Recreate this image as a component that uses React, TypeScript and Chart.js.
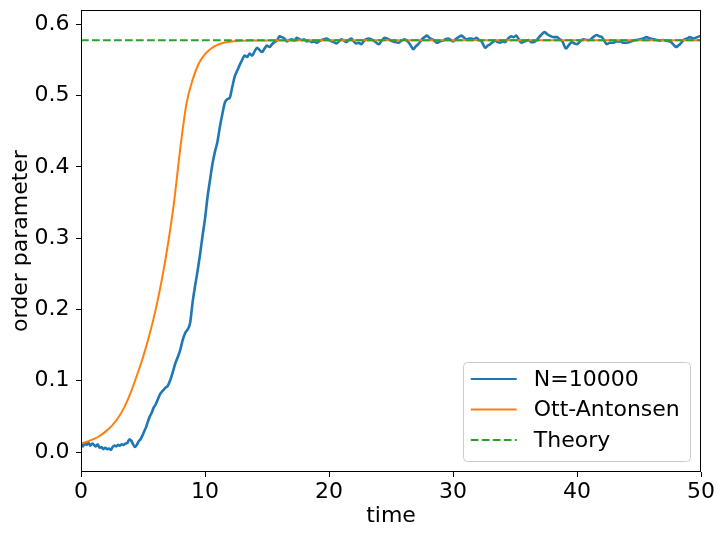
import React, { useEffect, useRef } from "react";
import { Chart, registerables } from "chart.js";

Chart.register(...registerables);

// ---------- data ----------
const xTickValues = [0, 10, 20, 30, 40, 50];
const yTickValues = [0, 0.1, 0.2, 0.3, 0.4, 0.5, 0.6];

const seriesLabels = ["N=10000", "Ott-Antonsen", "Theory"];

const blueT = [
  0, 0.15, 0.3, 0.45, 0.6, 0.75, 0.9, 1.05, 1.2, 1.35, 1.5, 1.65, 1.8, 1.95, 2.1, 2.25, 2.4, 2.55, 2.7, 2.85,
  3.0, 3.15, 3.3, 3.45, 3.6, 3.75, 3.9, 4.05, 4.2, 4.35, 4.5, 4.65, 4.8, 4.95, 5.1, 5.25, 5.4, 5.55, 5.7, 5.85,
  6.0, 6.2, 6.4, 6.6, 6.8, 7.0, 7.2, 7.4, 7.6, 7.8, 8.0, 8.2, 8.4, 8.6, 8.8, 9.0, 9.2, 9.4, 9.6, 9.8,
  10.0, 10.2, 10.4, 10.6, 10.8, 11.0, 11.2, 11.4, 11.6, 11.8, 12.0, 12.2, 12.4, 12.6, 12.8, 13.0, 13.2, 13.4, 13.6, 13.8,
  14.0, 14.2, 14.4, 14.6, 14.8, 15.0, 15.2, 15.4, 15.6, 15.8, 16.0, 16.2, 16.4, 16.6, 16.8, 17.0, 17.2, 17.4, 17.6, 17.8,
  18.0, 18.2, 18.4, 18.6, 18.8, 19.0, 19.2, 19.4, 19.6, 19.8, 20.0, 20.2, 20.4, 20.6, 20.8, 21.0, 21.2, 21.4, 21.6, 21.8,
  22.0, 22.2, 22.4, 22.6, 22.8, 23.0, 23.2, 23.4, 23.7, 24.0, 24.25, 24.5, 24.8, 25.1, 25.35, 25.6, 25.85, 26.1, 26.4, 26.6,
  26.8, 27.0, 27.2, 27.5, 27.7, 27.9, 28.1, 28.3, 28.5, 28.7, 28.95, 29.2, 29.4, 29.6, 29.8, 30.0, 30.2, 30.45, 30.7, 30.9,
  31.1, 31.3, 31.5, 31.7, 31.9, 32.1, 32.3, 32.45, 32.6, 32.8, 33.0, 33.2, 33.4, 33.6, 33.8, 34.0, 34.2, 34.45, 34.7, 34.9,
  35.1, 35.3, 35.5, 35.8, 36.1, 36.3, 36.5, 36.7, 36.9, 37.1, 37.4, 37.6, 37.8, 38.1, 38.4, 38.6, 38.8, 38.95, 39.1, 39.35,
  39.6, 39.8, 40.0, 40.25, 40.5, 40.75, 41.0, 41.3, 41.6, 41.8, 42.0, 42.2, 42.4, 42.65, 42.9, 43.2, 43.5, 43.75, 44.0, 44.25,
  44.5, 44.8, 45.1, 45.35, 45.6, 45.9, 46.2, 46.45, 46.7, 46.95, 47.2, 47.4, 47.6, 47.8, 48.0, 48.15, 48.3, 48.5, 48.7, 48.9,
  49.1, 49.4, 49.7, 49.85, 50.0,
];
const blueR = [
  0.013, 0.008, 0.012, 0.010, 0.013, 0.009, 0.012, 0.010, 0.008, 0.011, 0.006, 0.007, 0.004, 0.006, 0.004, 0.005, 0.003, 0.007, 0.009, 0.008,
  0.010, 0.009, 0.011, 0.010, 0.012, 0.013, 0.018, 0.016, 0.011, 0.007, 0.010, 0.015, 0.018, 0.023, 0.029, 0.035, 0.043, 0.050, 0.055, 0.062,
  0.066, 0.074, 0.082, 0.086, 0.090, 0.093, 0.101, 0.112, 0.124, 0.133, 0.143, 0.157, 0.167, 0.172, 0.181, 0.210, 0.233, 0.254, 0.277, 0.303,
  0.327, 0.357, 0.381, 0.404, 0.421, 0.435, 0.456, 0.474, 0.490, 0.495, 0.497, 0.512, 0.527, 0.535, 0.543, 0.550, 0.556, 0.554, 0.559, 0.556,
  0.562, 0.567, 0.564, 0.561, 0.566, 0.570, 0.568, 0.572, 0.575, 0.577, 0.583, 0.582, 0.580, 0.576, 0.578, 0.579, 0.577, 0.581, 0.579, 0.578,
  0.579, 0.576, 0.577, 0.575, 0.576, 0.574, 0.576, 0.578, 0.579, 0.580, 0.578, 0.576, 0.575, 0.573, 0.576, 0.579, 0.577, 0.575, 0.578, 0.580,
  0.576, 0.573, 0.574, 0.572, 0.576, 0.579, 0.580, 0.579, 0.576, 0.572, 0.577, 0.581, 0.579, 0.576, 0.575, 0.574, 0.577, 0.579, 0.575, 0.570,
  0.565, 0.569, 0.572, 0.579, 0.582, 0.584, 0.581, 0.579, 0.577, 0.574, 0.576, 0.577, 0.579, 0.580, 0.578, 0.576, 0.579, 0.582, 0.584, 0.581,
  0.579, 0.580, 0.580, 0.579, 0.581, 0.578, 0.576, 0.571, 0.567, 0.570, 0.572, 0.575, 0.577, 0.575, 0.574, 0.576, 0.575, 0.580, 0.583, 0.582,
  0.584, 0.579, 0.574, 0.576, 0.578, 0.575, 0.575, 0.577, 0.581, 0.585, 0.589, 0.586, 0.584, 0.582, 0.582, 0.579, 0.577, 0.571, 0.566, 0.571,
  0.575, 0.573, 0.572, 0.576, 0.579, 0.578, 0.578, 0.582, 0.585, 0.583, 0.582, 0.577, 0.572, 0.574, 0.574, 0.576, 0.576, 0.574, 0.574, 0.575,
  0.577, 0.578, 0.579, 0.580, 0.582, 0.580, 0.579, 0.578, 0.577, 0.578, 0.577, 0.576, 0.575, 0.571, 0.568, 0.570, 0.572, 0.576, 0.579, 0.580,
  0.582, 0.580, 0.582, 0.583, 0.584,
];

const orangeT = [
  0, 0.5, 1, 1.5, 2, 2.5, 3, 3.5, 4, 4.5, 5, 5.5, 6, 6.5, 7, 7.5, 8, 8.5, 9, 9.5,
  10, 10.5, 11, 11.5, 12, 12.5, 13, 14, 15, 20, 30, 40, 50,
];
const orangeR = [
  0.012, 0.0145, 0.018, 0.0225, 0.029, 0.037, 0.048, 0.063, 0.083, 0.107, 0.133, 0.163, 0.198, 0.240, 0.290, 0.350, 0.425, 0.488, 0.522, 0.545,
  0.558, 0.566, 0.571, 0.574, 0.5755, 0.5763, 0.577, 0.5772, 0.5773, 0.5774, 0.5774, 0.5774, 0.5774,
];

const theoryT = [0, 50];
const theoryR = [0.5774, 0.5774];

const xLabel = "time";
const yLabel = "order parameter";

// ---------- styling ----------
const FONT_FAMILY = "'DejaVu Sans', sans-serif";
const FONT_SIZE = 22;

const toPoints = (xs: number[], ys: number[]) => xs.map((x, i) => ({ x, y: ys[i] }));

const framePlugin = {
  id: "mplFrame",
  afterDatasetsDraw(chart: any) {
    const { ctx, chartArea } = chart;
    ctx.save();
    ctx.strokeStyle = "#000";
    ctx.lineWidth = 1;
    const l = Math.round(chartArea.left) + 0.5;
    const t = Math.round(chartArea.top) + 0.5;
    const r = Math.round(chartArea.right) - 0.5;
    const b = Math.round(chartArea.bottom) - 0.5;
    ctx.strokeRect(l, t, r - l, b - t);
    ctx.restore();
  },
};

const legendPlugin = {
  id: "mplLegend",
  afterDraw(chart: any) {
    const { ctx, chartArea } = chart;
    const w = 227;
    const h = 99;
    const x = Math.round(chartArea.right - 11 - w) + 0.5;
    const y = Math.round(chartArea.bottom - 11 - h) + 0.5;
    ctx.save();
    ctx.beginPath();
    const rad = 4;
    ctx.moveTo(x + rad, y);
    ctx.lineTo(x + w - rad, y);
    ctx.quadraticCurveTo(x + w, y, x + w, y + rad);
    ctx.lineTo(x + w, y + h - rad);
    ctx.quadraticCurveTo(x + w, y + h, x + w - rad, y + h);
    ctx.lineTo(x + rad, y + h);
    ctx.quadraticCurveTo(x, y + h, x, y + h - rad);
    ctx.lineTo(x, y + rad);
    ctx.quadraticCurveTo(x, y, x + rad, y);
    ctx.closePath();
    ctx.fillStyle = "rgba(255,255,255,0.8)";
    ctx.fill();
    ctx.strokeStyle = "#cccccc";
    ctx.lineWidth = 1;
    ctx.stroke();

    chart.data.datasets.forEach((ds: any, i: number) => {
      const cy = y + 16.6 + i * 30.5;
      ctx.beginPath();
      ctx.setLineDash(ds.borderDash || []);
      ctx.strokeStyle = ds.borderColor;
      ctx.lineWidth = 2;
      ctx.moveTo(x + 7.3, cy);
      ctx.lineTo(x + 53.3, cy);
      ctx.stroke();
      ctx.setLineDash([]);
      ctx.fillStyle = "#000";
      ctx.font = `${FONT_SIZE}px ${FONT_FAMILY}`;
      ctx.textBaseline = "middle";
      ctx.textAlign = "left";
      ctx.fillText(ds.label, x + 70.3, cy + 1);
    });
    ctx.restore();
  },
};

export default function App() {
  const ref = useRef<HTMLCanvasElement>(null);

  useEffect(() => {
    const canvas = ref.current;
    if (!canvas) return;
    const chart = new Chart(canvas, {
      type: "line",
      data: {
        datasets: [
          {
            label: seriesLabels[0],
            data: toPoints(blueT, blueR),
            borderColor: "#1f77b4",
            backgroundColor: "#1f77b4",
            borderWidth: 2.6,
            pointRadius: 0,
            cubicInterpolationMode: "monotone",
            borderJoinStyle: "round",
            order: 3,
          },
          {
            label: seriesLabels[1],
            data: toPoints(orangeT, orangeR),
            borderColor: "#ff7f0e",
            backgroundColor: "#ff7f0e",
            borderWidth: 2,
            pointRadius: 0,
            cubicInterpolationMode: "monotone",
            order: 2,
          },
          {
            label: seriesLabels[2],
            data: toPoints(theoryT, theoryR),
            borderColor: "#2ca02c",
            backgroundColor: "#2ca02c",
            borderWidth: 2,
            borderDash: [7.7, 3.3],
            pointRadius: 0,
            order: 1,
          },
        ],
      },
      options: {
        responsive: false,
        animation: false,
        events: [],
        layout: { padding: { top: 10, right: 24, left: 0, bottom: 0 } },
        plugins: {
          legend: { display: false },
          tooltip: { enabled: false },
          title: { display: false },
        },
        scales: {
          x: {
            type: "linear",
            min: 0,
            max: 50,
            afterBuildTicks: (s: any) => {
              s.ticks = xTickValues.map((v) => ({ value: v }));
            },
            afterFit: (s: any) => {
              s.height = 65;
              s.paddingLeft = 0;
              s.paddingRight = 0;
            },
            ticks: {
              color: "#000",
              font: { family: FONT_FAMILY, size: FONT_SIZE },
              padding: 2,
              maxRotation: 0,
              autoSkip: false,
              callback: (v: any) => String(v),
            },
            grid: {
              display: true,
              drawOnChartArea: false,
              drawTicks: true,
              tickLength: 5,
              color: "#000",
              lineWidth: 1,
            },
            border: { display: false },
            title: {
              display: true,
              text: xLabel,
              color: "#000",
              font: { family: FONT_FAMILY, size: FONT_SIZE },
              padding: { top: 0, bottom: 8 },
            },
          },
          y: {
            type: "linear",
            min: -0.028,
            max: 0.62,
            afterBuildTicks: (s: any) => {
              s.ticks = yTickValues.map((v) => ({ value: v }));
            },
            afterFit: (s: any) => {
              s.width = 81;
              s.paddingTop = 0;
              s.paddingBottom = 0;
            },
            ticks: {
              color: "#000",
              font: { family: FONT_FAMILY, size: FONT_SIZE },
              padding: 6.5,
              autoSkip: false,
              callback: (v: any) => Number(v).toFixed(1),
            },
            grid: {
              display: true,
              drawOnChartArea: false,
              drawTicks: true,
              tickLength: 5,
              color: "#000",
              lineWidth: 1,
            },
            border: { display: false },
            title: {
              display: true,
              text: yLabel,
              color: "#000",
              font: { family: FONT_FAMILY, size: FONT_SIZE },
              padding: { top: 8, bottom: 0 },
            },
          },
        },
      },
      plugins: [framePlugin, legendPlugin],
    });
    return () => chart.destroy();
  }, []);

  return (
    <div style={{ position: "absolute", left: 0, top: 0, width: 725, height: 537, background: "#fff" }}>
      <canvas ref={ref} width={725} height={537} style={{ display: "block" }} />
    </div>
  );
}
